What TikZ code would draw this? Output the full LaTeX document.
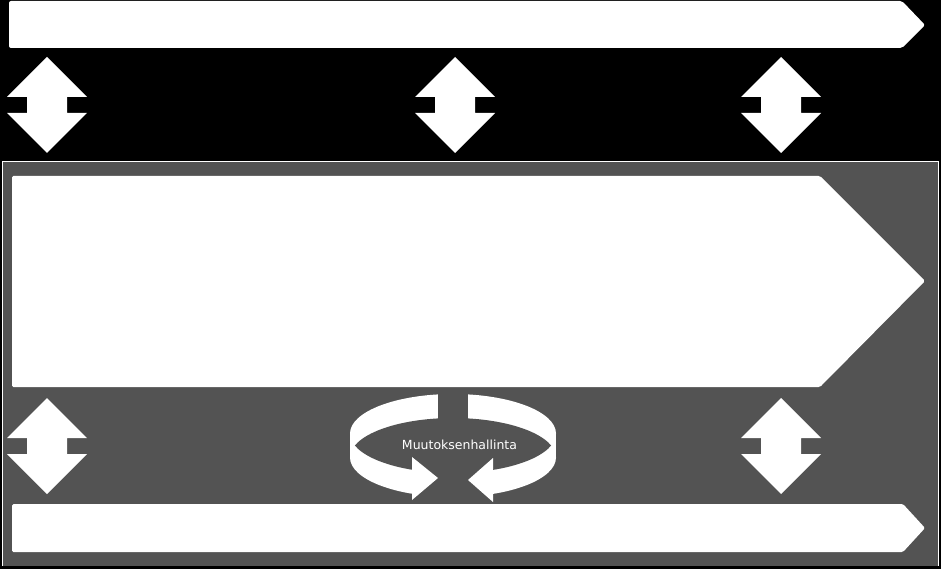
\documentclass[tikz,border=0pt]{standalone}
\usepackage{fontspec}
\newfontfamily\labelfont{DejaVu Sans}
\definecolor{panelgray}{RGB}{83,83,83}
\begin{document}
\begin{tikzpicture}[x=1pt,y=-1pt,
  dblarrow/.pic={
    \fill[white] (0,0) -- (40,40) -- (20,40) -- (20,56) -- (40,56) -- (0,96)
      -- (-40,56) -- (-20,56) -- (-20,40) -- (-40,40) -- cycle;
  }]
\useasboundingbox (0,0) rectangle (941,569);
\fill[black] (0,0) rectangle (941,569);
% gray panel
\fill[panelgray] (2,161) rectangle (939,566);
\draw[white,line width=1.8pt] (2,161.5) -- (938.5,161.5) -- (938.5,566);
\draw[white,line width=1pt] (2.5,161.5) -- (2.5,566);
% top arrow
\fill[white,rounded corners=2pt] (9,1) -- (902,1) -- (925,25) -- (902,48) -- (9,48) -- cycle;
% top double arrows
\pic at (47,57) {dblarrow};
\pic at (455,57) {dblarrow};
\pic at (781,57) {dblarrow};
% big arrow
\fill[white,rounded corners=1.5pt] (12,176) -- (820,176) -- (925,281) -- (820,387) -- (12,387) -- cycle;
% lower double arrows
\pic at (47,398) {dblarrow};
\pic at (781,398) {dblarrow};
% bottom arrow
\fill[white,rounded corners=1.5pt] (12,504) -- (903,504) -- (925,528) -- (903,552) -- (12,552) -- cycle;
% circular arrows (3D ring)
\fill[white] (453,433.5) ellipse [x radius=103pt, y radius=39.5pt];
\fill[white] (453,457.5) ellipse [x radius=103pt, y radius=39.5pt];
\fill[white] (350,433.5) rectangle (556,457.5);
\begin{scope}
  \clip (453,433.5) ellipse [x radius=103pt, y radius=39.5pt];
  \fill[panelgray] (453,457.5) ellipse [x radius=103pt, y radius=39.5pt];
\end{scope}
\fill[panelgray] (438,388) rectangle (468,428);
\fill[panelgray] (412,455) rectangle (493,499.5);
\fill[white] (412,457) -- (438,478) -- (412,500) -- cycle;
\fill[white] (493,458) -- (468,480) -- (493,502) -- cycle;
\node[text=white,font=\labelfont\fontsize{12.5}{14}\selectfont,inner sep=0pt] (mh) at (459.5,445) {Muutoksenhallinta};
\end{tikzpicture}
\end{document}
